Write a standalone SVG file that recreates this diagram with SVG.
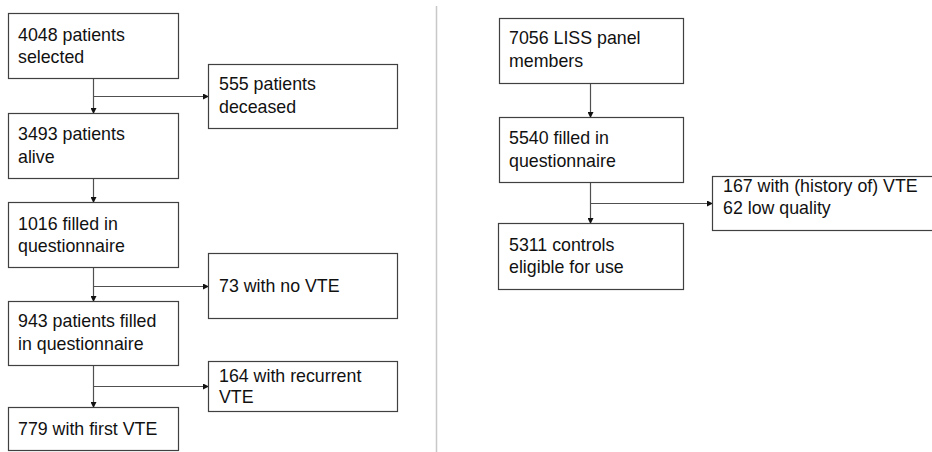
<svg xmlns="http://www.w3.org/2000/svg" width="932" height="452" viewBox="0 0 932 452">
<style>
.box rect{fill:#fff;stroke:#404040;stroke-width:1.2}
text{font-family:"Liberation Sans",Arial,sans-serif;font-size:17.8px;fill:#111}
.conn line{stroke:#505050;stroke-width:1.2}
.div{stroke:#c8c8c8;stroke-width:1.5}
</style>
<defs>
<marker id="ah" markerWidth="6" markerHeight="6" refX="5" refY="3" orient="auto" markerUnits="userSpaceOnUse">
<path d="M0,0 L6,3 L0,6 Z" fill="#111"/>
</marker>
</defs>
<rect x="0" y="0" width="932" height="452" fill="#fff"/>
<line class="div" x1="436.5" y1="6" x2="436.5" y2="452"/>
<g class="conn">
<line x1="93.5" y1="78" x2="93.5" y2="113" marker-end="url(#ah)"/>
<line x1="93.5" y1="96.5" x2="208" y2="96.5" marker-end="url(#ah)"/>
<line x1="93.5" y1="178" x2="93.5" y2="202" marker-end="url(#ah)"/>
<line x1="93.5" y1="267" x2="93.5" y2="301" marker-end="url(#ah)"/>
<line x1="93.5" y1="286.5" x2="208" y2="286.5" marker-end="url(#ah)"/>
<line x1="93.5" y1="365" x2="93.5" y2="407" marker-end="url(#ah)"/>
<line x1="93.5" y1="386.5" x2="208" y2="386.5" marker-end="url(#ah)"/>
<line x1="590.5" y1="83" x2="590.5" y2="117" marker-end="url(#ah)"/>
<line x1="590.5" y1="182" x2="590.5" y2="223" marker-end="url(#ah)"/>
<line x1="590.5" y1="203.5" x2="712" y2="203.5" marker-end="url(#ah)"/>
</g>
<g id="n4048" class="box"><rect x="8.5" y="13.5" width="170" height="65"/><text x="18" y="41">4048 patients</text><text x="18" y="63">selected</text></g>
<g id="n555" class="box"><rect x="208.5" y="64.5" width="189" height="64"/><text x="219" y="90">555 patients</text><text x="219" y="113">deceased</text></g>
<g id="n3493" class="box"><rect x="8.5" y="113.5" width="170" height="65"/><text x="18" y="140">3493 patients</text><text x="18" y="163">alive</text></g>
<g id="n1016" class="box"><rect x="8.5" y="202.5" width="170" height="65"/><text x="18" y="230">1016 filled in</text><text x="18" y="252">questionnaire</text></g>
<g id="n73" class="box"><rect x="208.5" y="253.5" width="189" height="65"/><text x="219" y="292">73 with no VTE</text></g>
<g id="n943" class="box"><rect x="8.5" y="301.5" width="170" height="64"/><text x="18" y="327">943 patients filled</text><text x="18" y="350">in questionnaire</text></g>
<g id="n164" class="box"><rect x="208.5" y="361.5" width="189" height="50"/><text x="219" y="382">164 with recurrent</text><text x="219" y="403">VTE</text></g>
<g id="n779" class="box"><rect x="8.5" y="407.5" width="170" height="43"/><text x="18" y="435">779 with first VTE</text></g>
<g id="n7056" class="box"><rect x="499.5" y="18.5" width="184" height="65"/><text x="509" y="44">7056 LISS panel</text><text x="509" y="67">members</text></g>
<g id="n5540" class="box"><rect x="499.5" y="117.5" width="184" height="65"/><text x="509" y="144">5540 filled in</text><text x="509" y="167">questionnaire</text></g>
<g id="n167" class="box"><rect x="712.5" y="176.5" width="230" height="54"/><text x="723" y="192">167 with (history of) VTE</text><text x="723" y="214">62 low quality</text></g>
<g id="n5311" class="box"><rect x="498.5" y="223.5" width="185" height="66"/><text x="509" y="251">5311 controls</text><text x="509" y="273">eligible for use</text></g>
</svg>
